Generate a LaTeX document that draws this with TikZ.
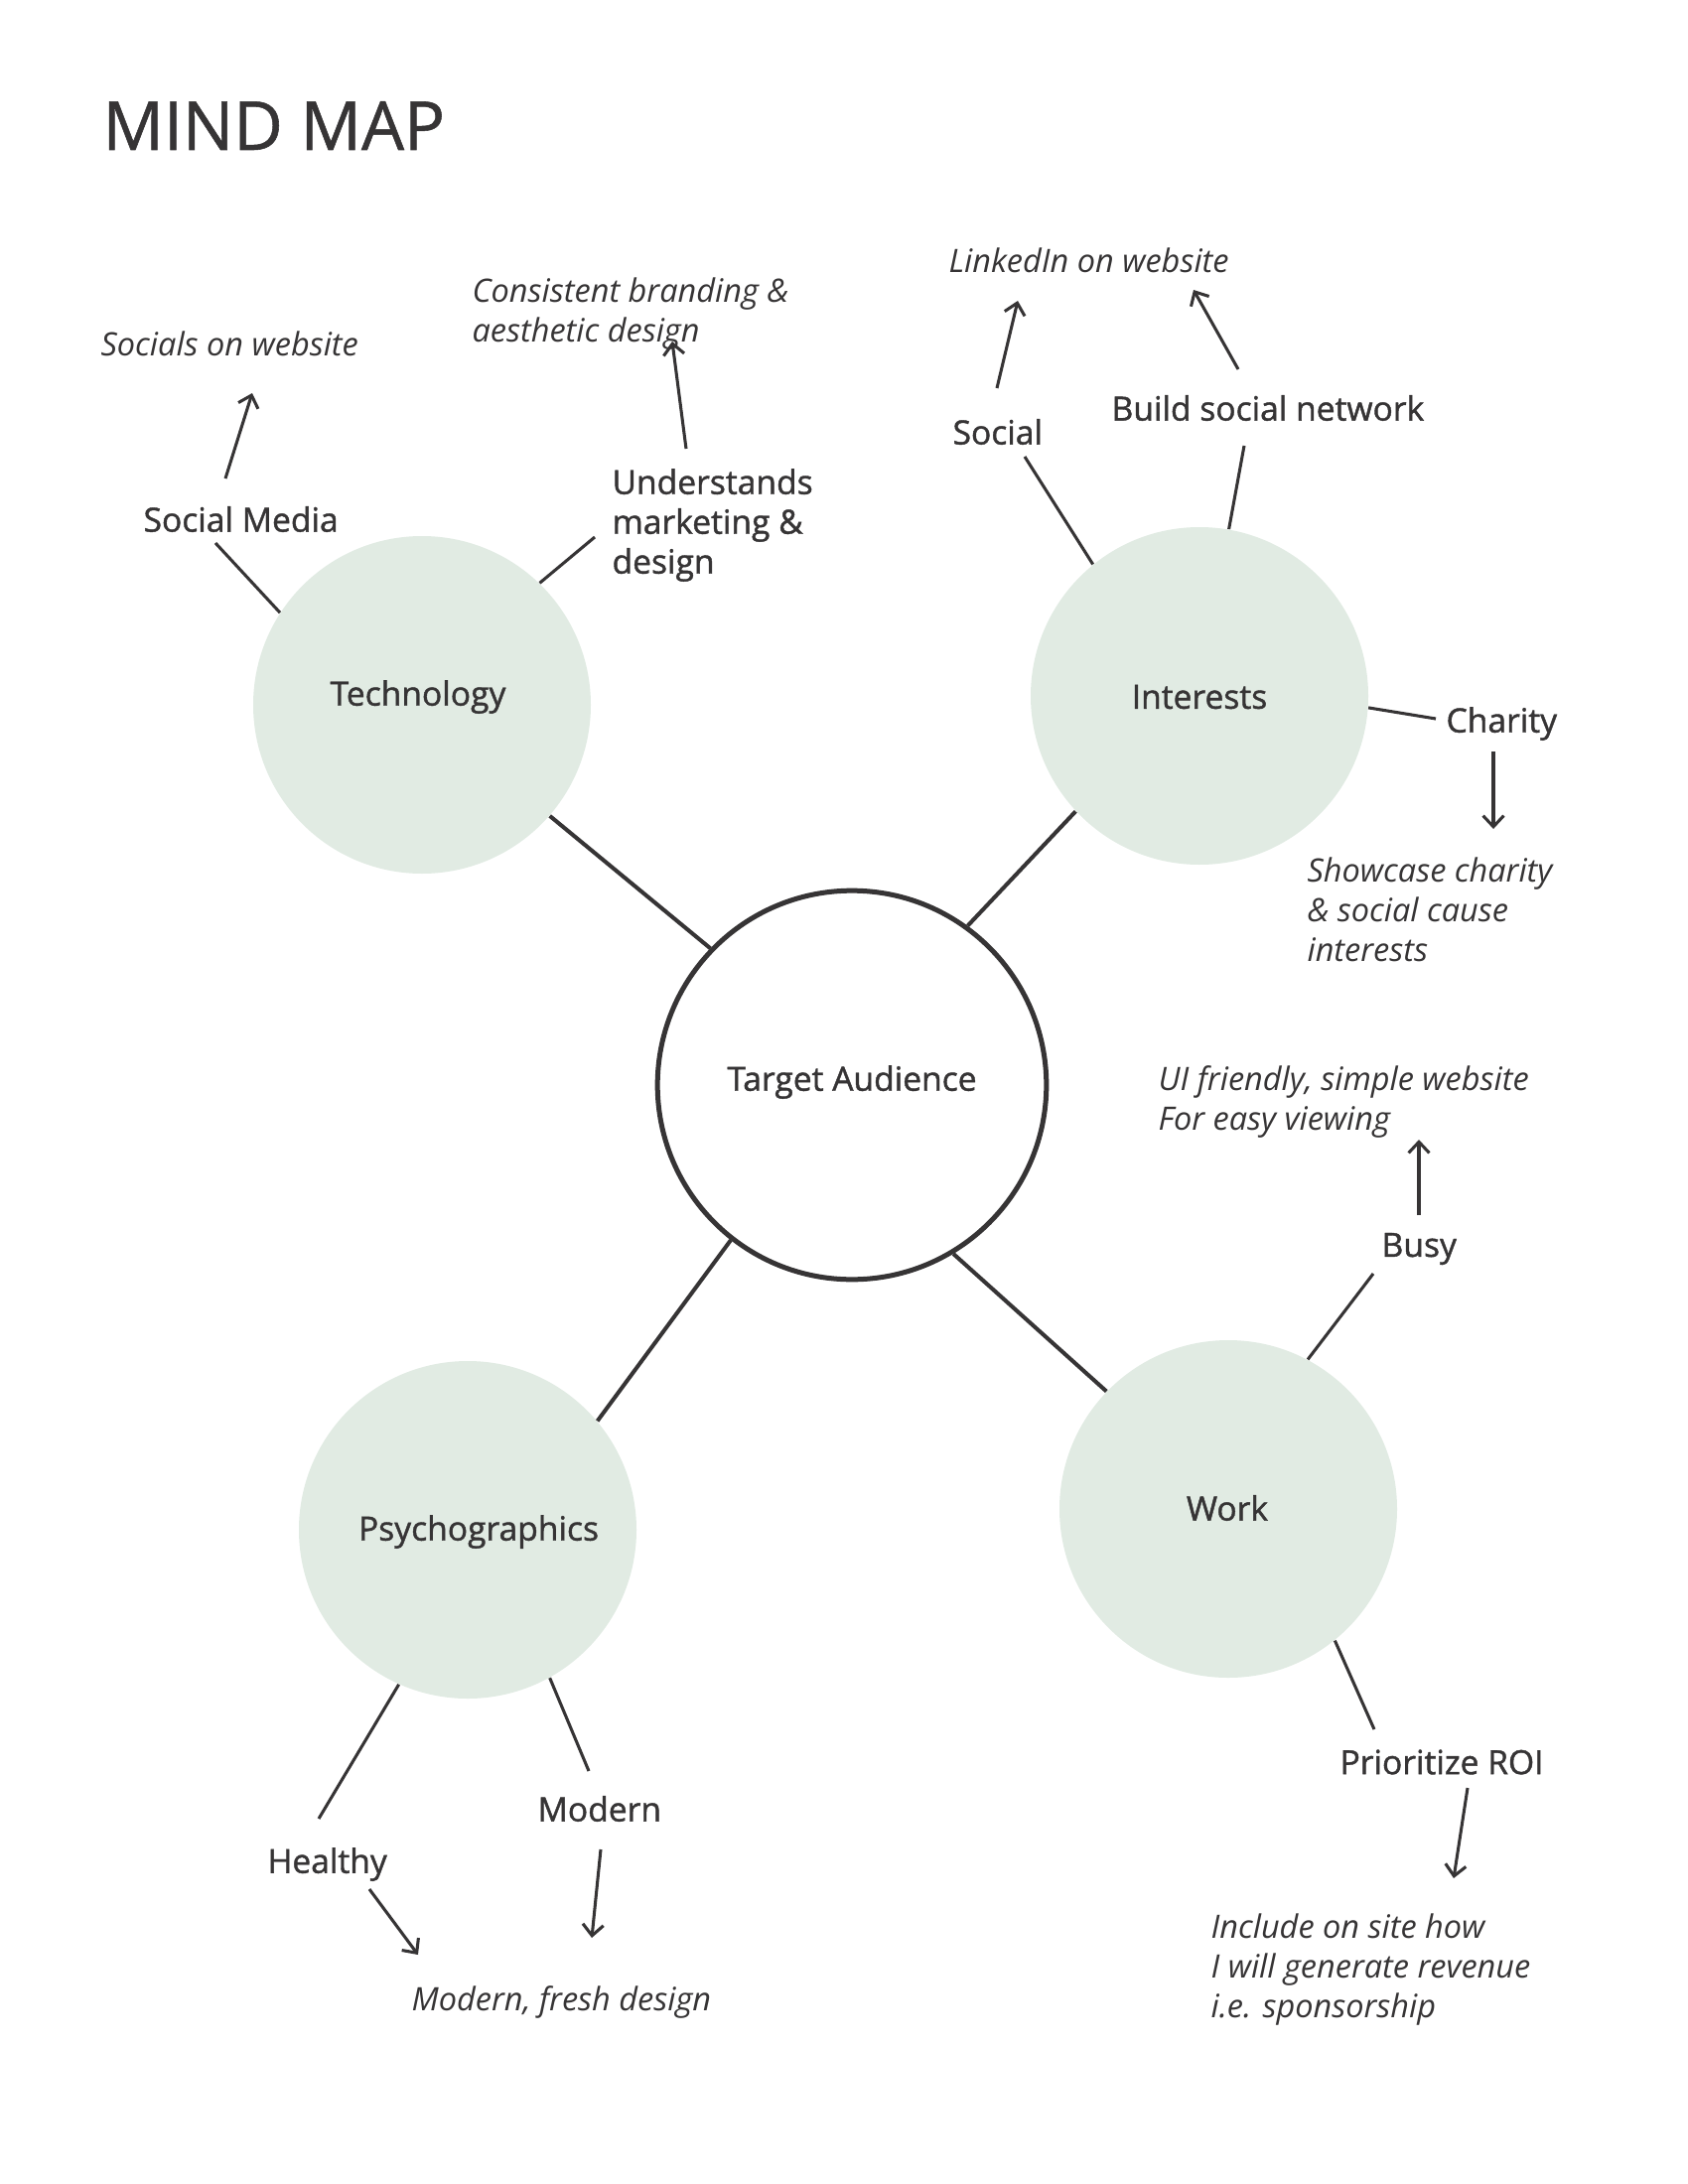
\documentclass[tikz,border=0pt]{standalone}
\usepackage{fontspec}
\setmainfont{Open Sans}
\newfontfamily\labfont{Open Sans}[FakeBold=1.2]
\newfontfamily\titlefont{Open Sans}[FakeBold=0.8]
\usetikzlibrary{arrows.meta}
\definecolor{ink}{HTML}{363435}
\definecolor{sage}{HTML}{E1EBE3}
\begin{document}
\begin{tikzpicture}[x=0.36pt,y=-0.36pt,
  hub/.style={circle, fill=sage, minimum size=122.4pt, inner sep=0pt},
  core/.style={circle, draw=ink, line width=1.8pt, fill=white, minimum size=141pt, inner sep=0pt},
  lab/.style={inner sep=0pt, text=ink, font=\labfont\fontsize{12.1}{14.4}\selectfont, align=left},
  note/.style={inner sep=0pt, text=ink, font=\itshape\fontsize{11.7}{14.4}\selectfont, align=left},
  mainline/.style={draw=ink, line width=1.45pt},
  subline/.style={draw=ink, line width=1.1pt},
  arr/.style={draw=ink, line width=1.1pt, -{Straight Barb[length=4pt,width=7.5pt,line width=1.1pt]}}
]
\useasboundingbox (0,0) rectangle (1700,2200);

% title
\node[anchor=base west, inner sep=0pt, text=ink, font=\titlefont\fontsize{24.5}{30}\selectfont] (title) at (103,151) {MIND MAP};

% circles
\node[core] (ta) at (858,1093) {};
\node[hub] (tech) at (425,710) {};
\node[hub] (int) at (1208,701) {};
\node[hub] (psy) at (471,1541) {};
\node[hub] (work) at (1237,1520) {};

\node[lab, anchor=center] (tatxt) at (858,1090) {Target Audience};
\node[lab, anchor=center] (techtxt) at (421,702) {Technology};
\node[lab, anchor=center] (inttxt) at (1208,702) {Interests};
\node[lab, anchor=center] (psytxt) at (482,1543) {Psychographics};
\node[lab, anchor=center] (worktxt) at (1236,1519) {Work};

% main connectors
\draw[mainline] (tech.-41) -- (ta.136);
\draw[mainline] (int.223) -- (ta.54.5);
\draw[mainline] (psy.40) -- (ta.-128);
\draw[mainline] (work.136) -- (ta.-59.5);

% Technology branch
\node[lab, anchor=west] (sm) at (144,523) {Social Media};
\node[note, anchor=west] (smnote) at (101,346) {Socials on website};
\node[lab, anchor=west] (und) at (616,529) {Understands\\marketing \&\\design};
\node[note, anchor=west] (undnote) at (475,316) {Consistent branding \&\\aesthetic design};
\coordinate (smA) at (217,547);
\coordinate (smB) at (227,482);
\coordinate (smC) at (254,396);
\coordinate (undA) at (599,541);
\coordinate (undB) at (691,452);
\coordinate (undC) at (677,344);
\draw[subline] (tech.147) -- (smA);
\draw[arr] (smB) -- (smC);
\draw[subline] (tech.46) -- (undA);
\draw[arr] (undB) -- (undC);

% Interests branch
\node[note, anchor=west] (linote) at (955,262) {LinkedIn on website};
\node[lab, anchor=west] (soc) at (959,435) {Social};
\node[lab, anchor=west] (bsn) at (1119,411) {Build social network};
\node[lab, anchor=west] (cha) at (1456,729) {Charity};
\node[note, anchor=west] (chanote) at (1316,916) {Showcase charity\\\& social cause\\interests};
\coordinate (socA) at (1032,460);
\coordinate (socB) at (1004,391);
\coordinate (socC) at (1025,303);
\coordinate (bsnA) at (1253,449);
\coordinate (bsnB) at (1247,372);
\coordinate (bsnC) at (1202,292);
\coordinate (chaA) at (1446,724);
\coordinate (chaB) at (1504,757);
\coordinate (chaC) at (1504,835);
\draw[subline] (int.129) -- (socA);
\draw[arr] (socB) -- (socC);
\draw[subline] (int.80) -- (bsnA);
\draw[arr] (bsnB) -- (bsnC);
\draw[subline] (int.-4) -- (chaA);
\draw[arr] (chaB) -- (chaC);

% Work branch
\node[note, anchor=west] (uinote) at (1166,1110) {UI friendly, simple website\\For easy viewing};
\node[lab, anchor=west] (busy) at (1391,1258) {Busy};
\node[lab, anchor=west] (roi) at (1349,1775) {Prioritize ROI};
\node[note, anchor=west] (roinote) at (1219,1984) {Include on site how\\I will generate revenue\\i.e. sponsorship};
\coordinate (busyA) at (1383,1283);
\coordinate (busyB) at (1429,1224);
\coordinate (busyC) at (1429,1148);
\coordinate (roiA) at (1384,1742);
\coordinate (roiB) at (1478,1801);
\coordinate (roiC) at (1464,1892);
\draw[subline] (work.62) -- (busyA);
\draw[arr] (busyB) -- (busyC);
\draw[subline] (work.-51) -- (roiA);
\draw[arr] (roiB) -- (roiC);

% Psychographics branch
\node[lab, anchor=west] (hea) at (269,1878) {Healthy};
\node[lab, anchor=west] (mod) at (541,1822) {Modern};
\node[note, anchor=west] (modnote) at (414,2017) {Modern, fresh design};
\coordinate (heaA) at (321,1832);
\coordinate (heaB) at (372,1903);
\coordinate (heaC) at (421,1969);
\coordinate (modA) at (593,1784);
\coordinate (modB) at (605,1863);
\coordinate (modC) at (596,1952);
\draw[subline] (psy.-114) -- (heaA);
\draw[arr] (heaB) -- (heaC);
\draw[subline] (psy.-61) -- (modA);
\draw[arr] (modB) -- (modC);
\end{tikzpicture}
\end{document}
